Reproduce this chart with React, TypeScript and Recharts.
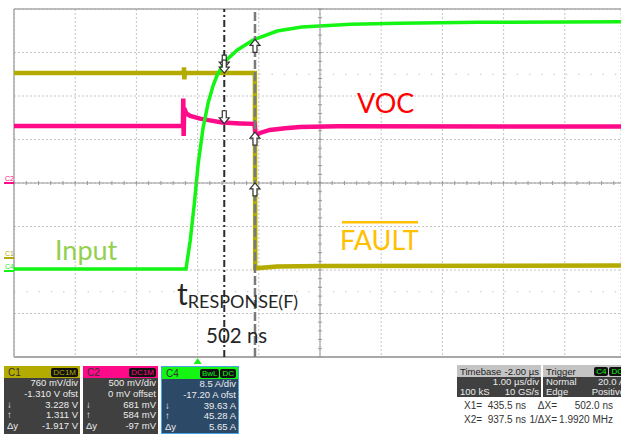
import React from "react";
import {
  LineChart,
  Line,
  XAxis,
  YAxis,
  CartesianGrid,
  ReferenceLine,
  ReferenceDot,
} from "recharts";

// time in ns, 0 = trigger. Screen shows -3 us .. ~6.9 us at 1 us/div
const timeTicks = [-3000, -2000, -1000, 0, 1000, 2000, 3000, 4000, 5000, 6000];
// C2 axis (0.5 V/div, 0 offset) carries the graticule
const gridTicks = [-2, -1.5, -1, -0.5, 0, 0.5, 1, 1.5, 2];

// C1 - FAULT (V)
const c1Time = [-3000, -228, -222, -216, -210, 936, 942, 1300, 2000, 6918];
const c1Volts = [3.23, 3.23, 3.33, 3.12, 3.23, 3.23, -0.18, -0.15, -0.14, -0.13];

// C2 - VOC (V)
const c2Time = [-3000, -240, -234, -228, -218, -186, -120, 40, 200, 400, 700, 930, 950, 1020, 1180, 1430, 1670, 2300, 6918];
const c2Volts = [0.655, 0.655, 0.97, 0.54, 0.86, 0.8, 0.77, 0.74, 0.72, 0.695, 0.685, 0.68, 0.55, 0.575, 0.61, 0.63, 0.645, 0.652, 0.65];

// C4 - Input (A)
const c4Time = [-3000, -190, -120, -55, 10, 90, 175, 255, 320, 450, 650, 900, 1300, 1700, 2500, 3300, 4600, 6918];
const c4Amps = [0.4, 0.4, 6, 13, 21, 28, 33, 36.3, 38.3, 41, 43.2, 45.1, 46.9, 47.7, 48.2, 48.4, 48.6, 48.7];

// cursors and readings
const cursorX = [435.5, 937.5];
const c1Read = [3.228, 1.311];
const c2Read = [0.681, 0.584];
const c4Read = [39.63, 45.28];

// vertical scale / offset per channel
const c1Scale = 0.76, c1Offset = -1.31;
const c2Scale = 0.5, c2Offset = 0;
const c4Scale = 8.5, c4Offset = -17.2;

const YEL = "#b3ab00";
const PINK = "#ff0a88";
const GRN = "#14f514";
const GRID = "#c4c4c4";

const zip = (t: number[], v: number[]) => t.map((x, i) => ({ t: x, v: v[i] }));
const c1Data = zip(c1Time, c1Volts);
const c2Data = zip(c2Time, c2Volts);
const c4Data = zip(c4Time, c4Amps);

const dom = (scale: number, off: number) => [-off - 4 * scale, -off + 4 * scale];

// graticule minor marks on the centre cross (1/5 div)
const minorT: number[] = [];
for (let t = -3000; t <= 6900; t += 200) minorT.push(t);
const minorV: number[] = [];
for (let d = -20; d <= 20; d += 1) minorV.push(d / 10);

const arrow = (up: boolean) => (p: any) => {
  const { cx, cy } = p;
  const s = up ? 1 : -1;
  const pts = [
    [cx, cy],
    [cx - 5, cy + s * 6],
    [cx - 2, cy + s * 6],
    [cx - 2, cy + s * 13],
    [cx + 2, cy + s * 13],
    [cx + 2, cy + s * 6],
    [cx + 5, cy + s * 6],
  ]
    .map((q) => q.join(","))
    .join(" ");
  return <polygon points={pts} fill="#fff" stroke="#333" strokeWidth={1.2} />;
};

const chMarker = (label: string, color: string) => (p: any) => (
  <g>
    <text x={p.cx - 9} y={p.cy - 2} fontSize={7} fill={color} fontFamily="Liberation Sans">
      {label}
    </text>
    <line x1={p.cx - 10} x2={p.cx} y1={p.cy} y2={p.cy} stroke={color} strokeWidth={2} />
  </g>
);

const hTick = (p: any) => (
  <line x1={p.cx} x2={p.cx} y1={p.cy - 2} y2={p.cy + 2} stroke="#999" strokeWidth={1} />
);
const vTick = (p: any) => (
  <line x1={p.cx - 2} x2={p.cx + 2} y1={p.cy} y2={p.cy} stroke="#999" strokeWidth={1} />
);
const trigMark = (p: any) => (
  <polygon points={`${p.cx},${p.cy + 1} ${p.cx - 4},${p.cy + 7} ${p.cx + 4},${p.cy + 7}`} fill={GRN} />
);

function Scope() {
  return (
    <LineChart width={621} height={366} margin={{ top: 9, right: 0, left: 14, bottom: 9 }}>
      <XAxis dataKey="t" type="number" domain={[-3000, 6918]} ticks={timeTicks} hide allowDataOverflow />
      <YAxis yAxisId="c2" type="number" domain={dom(c2Scale, c2Offset)} ticks={gridTicks} hide allowDataOverflow />
      <YAxis yAxisId="c1" type="number" domain={dom(c1Scale, c1Offset)} hide allowDataOverflow />
      <YAxis yAxisId="c4" type="number" domain={dom(c4Scale, c4Offset)} hide allowDataOverflow />
      <CartesianGrid yAxisId="c2" stroke={GRID} strokeDasharray="2 2" />
      <ReferenceLine yAxisId="c2" y={1.25} stroke={GRID} strokeDasharray="1.5 10.76" />
      <ReferenceLine yAxisId="c2" y={-1.25} stroke={GRID} strokeDasharray="1.5 10.76" />
      <ReferenceLine yAxisId="c2" y={0} stroke="#9a9a9a" />
      <ReferenceLine yAxisId="c2" x={2000} stroke="#9a9a9a" />
      {minorT.map((t) => (
        <ReferenceDot key={"mt" + t} yAxisId="c2" x={t} y={0} shape={hTick} />
      ))}
      {minorV.map((d) => (
        <ReferenceDot key={"mv" + d} yAxisId="c2" x={2000} y={d} shape={vTick} />
      ))}
      <ReferenceLine yAxisId="c2" y={2} stroke="#a8a8a8" strokeWidth={1.5} />
      <ReferenceLine yAxisId="c2" y={-2} stroke="#a8a8a8" strokeWidth={2} />
      <ReferenceLine yAxisId="c2" x={-3000} stroke="#a8a8a8" strokeWidth={1.5} />

      <Line data={c1Data} dataKey="v" yAxisId="c1" stroke={YEL} strokeWidth={4.5} dot={false} isAnimationActive={false} />
      <Line data={c2Data} dataKey="v" yAxisId="c2" stroke={PINK} strokeWidth={4.5} dot={false} isAnimationActive={false} />
      <Line data={c4Data} dataKey="v" yAxisId="c4" stroke={GRN} strokeWidth={3.5} dot={false} isAnimationActive={false} />

      <ReferenceLine yAxisId="c2" x={cursorX[0]} stroke="#2a2a2a" strokeWidth={2} strokeDasharray="7 3 2 3" />
      <ReferenceLine yAxisId="c2" x={cursorX[1]} stroke="#7a7a7a" strokeWidth={2.5} strokeDasharray="9 3" />

      <ReferenceDot yAxisId="c4" x={cursorX[0]} y={c4Read[0]} shape={arrow(false)} />
      <ReferenceDot yAxisId="c1" x={cursorX[0]} y={c1Read[0]} shape={arrow(false)} />
      <ReferenceDot yAxisId="c2" x={cursorX[0]} y={c2Read[0]} shape={arrow(false)} />
      <ReferenceDot yAxisId="c4" x={cursorX[1]} y={c4Read[1]} shape={arrow(true)} />
      <ReferenceDot yAxisId="c2" x={cursorX[1]} y={c2Read[1]} shape={arrow(true)} />
      <ReferenceDot yAxisId="c1" x={cursorX[1]} y={c1Read[1]} shape={arrow(true)} />

      <ReferenceDot yAxisId="c2" x={-3000} y={0} shape={chMarker("C2", PINK)} />
      <ReferenceDot yAxisId="c1" x={-3000} y={0} shape={chMarker("C1", YEL)} />
      <ReferenceDot yAxisId="c4" x={-3000} y={0} shape={chMarker("C4", GRN)} />
      <ReferenceDot yAxisId="c2" x={0} y={-2} shape={trigMark} />
    </LineChart>
  );
}

const rowStyle: React.CSSProperties = {
  display: "flex",
  justifyContent: "space-between",
  height: 10.8,
  lineHeight: "10.8px",
  fontSize: 9.5,
  color: "#ececec",
  padding: "0 2px 0 3px",
  whiteSpace: "nowrap",
  overflow: "hidden",
};

const badge = (color: string): React.CSSProperties => ({
  background: "#111",
  color,
  fontSize: 8,
  lineHeight: "9px",
  padding: "0 2px",
  borderRadius: 2,
});

function ChannelBox(props: {
  left: number;
  width: number;
  color: string;
  name: string;
  badges: string[];
  rows: string[][];
  bodyBg: string;
  border?: string;
}) {
  return (
    <div
      style={{
        position: "absolute",
        left: props.left,
        top: 366,
        width: props.width,
        height: 68,
        background: props.bodyBg,
        border: props.border ? `1px solid ${props.border}` : undefined,
        boxSizing: "border-box",
        overflow: "hidden",
      }}
    >
      <div
        style={{
          height: 12,
          background: props.color,
          display: "flex",
          alignItems: "center",
          justifyContent: "space-between",
          padding: "0 2px 0 4px",
          fontSize: 10,
          color: "#333",
        }}
      >
        <span>{props.name}</span>
        <span style={{ display: "flex", gap: 1 }}>
          {props.badges.map((b) => (
            <span key={b} style={badge(props.color)}>
              {b}
            </span>
          ))}
        </span>
      </div>
      {props.rows.map((r, i) => (
        <div key={i} style={rowStyle}>
          <span>{r[0]}</span>
          <span>{r[1]}</span>
        </div>
      ))}
    </div>
  );
}

export default function App() {
  return (
    <div
      style={{
        position: "fixed",
        left: 0,
        top: 0,
        width: 621,
        height: 434,
        overflow: "hidden",
        background: "#fff",
        fontFamily: '"Liberation Sans", Arial, sans-serif',
      }}
    >
      <style>{"html,body{margin:0;overflow:hidden}"}</style>
      <Scope />
      <svg width={621} height={434} style={{ position: "absolute", left: 0, top: 0, pointerEvents: "none" }}>
        <g fontFamily="Lato, 'Open Sans', sans-serif">
          <text x={357} y={113} fontSize={27} fill="#ff0000">VOC</text>
          <text x={55} y={260} fontSize={27} fill="#92d050">Input</text>
          <rect x={342} y={221} width={76} height={2.5} fill="#ffc000" />
          <text x={340} y={250} fontSize={27} fill="#ffc000">FAULT</text>
          <text x={177} y={305} fill="#262626">
            <tspan fontSize={30}>t</tspan>
            <tspan fontSize={18} dy={3}>RESPONSE(F)</tspan>
          </text>
          <text x={206} y={343} fontSize={20.5} fill="#262626">502 ns</text>
        </g>
      </svg>

      <ChannelBox
        left={4}
        width={76}
        color={YEL}
        name="C1"
        badges={["DC1M"]}
        bodyBg="#404040"
        rows={[["", "760 mV/div"], ["", "-1.310 V ofst"], ["↓", "3.228 V"], ["↑", "1.311 V"], ["Δy", "-1.917 V"]]}
      />
      <ChannelBox
        left={83}
        width={75}
        color={PINK}
        name="C2"
        badges={["DC1M"]}
        bodyBg="#404040"
        rows={[["", "500 mV/div"], ["", "0 mV offset"], ["↓", "681 mV"], ["↑", "584 mV"], ["Δy", "-97 mV"]]}
      />
      <ChannelBox
        left={161}
        width={78}
        color={GRN}
        name="C4"
        badges={["BwL", "DC"]}
        bodyBg="#2c4a68"
        border="#48a6e6"
        rows={[["", "8.5 A/div"], ["", "-17.20 A ofst"], ["↓", "39.63 A"], ["↑", "45.28 A"], ["Δy", "5.65 A"]]}
      />

      <div style={{ position: "absolute", left: 457, top: 365, width: 84, height: 32, background: "#404040", overflow: "hidden" }}>
        <div style={{ height: 12, background: "#c4c4c4", display: "flex", justifyContent: "space-between", alignItems: "center", padding: "0 2px 0 3px", fontSize: 9.5, color: "#222", whiteSpace: "nowrap" }}>
          <span>Timebase</span>
          <span>-2.00 µs</span>
        </div>
        <div style={{ ...rowStyle, height: 10, lineHeight: "10px", justifyContent: "flex-end" }}>1.00 µs/div</div>
        <div style={{ ...rowStyle, height: 10, lineHeight: "10px" }}>
          <span>100 kS</span>
          <span>10 GS/s</span>
        </div>
      </div>
      <div style={{ position: "absolute", left: 543, top: 365, width: 84, height: 32, background: "#404040", overflow: "hidden" }}>
        <div style={{ height: 12, background: "#c4c4c4", display: "flex", alignItems: "center", padding: "0 2px 0 3px", fontSize: 9.5, color: "#222", whiteSpace: "nowrap" }}>
          <span style={{ flex: 1 }}>Trigger</span>
          <span style={{ ...badge(GRN), marginRight: 1 }}>C4</span>
          <span style={badge(GRN)}>DC</span>
        </div>
        <div style={{ ...rowStyle, height: 10, lineHeight: "10px" }}>
          <span>Normal</span>
          <span>20.0 A</span>
        </div>
        <div style={{ ...rowStyle, height: 10, lineHeight: "10px" }}>
          <span>Edge</span>
          <span>Positive</span>
        </div>
      </div>

      <div style={{ position: "absolute", left: 0, top: 400, width: 621, fontSize: 10, color: "#333", whiteSpace: "nowrap" }}>
        {[
          ["X1=", "435.5 ns", "ΔX=", "502.0 ns"],
          ["X2=", "937.5 ns", "1/ΔX=", "1.9920 MHz"],
        ].map((r, i) => (
          <div key={i} style={{ position: "relative", height: 14 }}>
            <span style={{ position: "absolute", left: 464 }}>{r[0]}</span>
            <span style={{ position: "absolute", right: 621 - 526 }}>{r[1]}</span>
            <span style={{ position: "absolute", right: 621 - 557 }}>{r[2]}</span>
            <span style={{ position: "absolute", right: 621 - 613 }}>{r[3]}</span>
          </div>
        ))}
      </div>
    </div>
  );
}
